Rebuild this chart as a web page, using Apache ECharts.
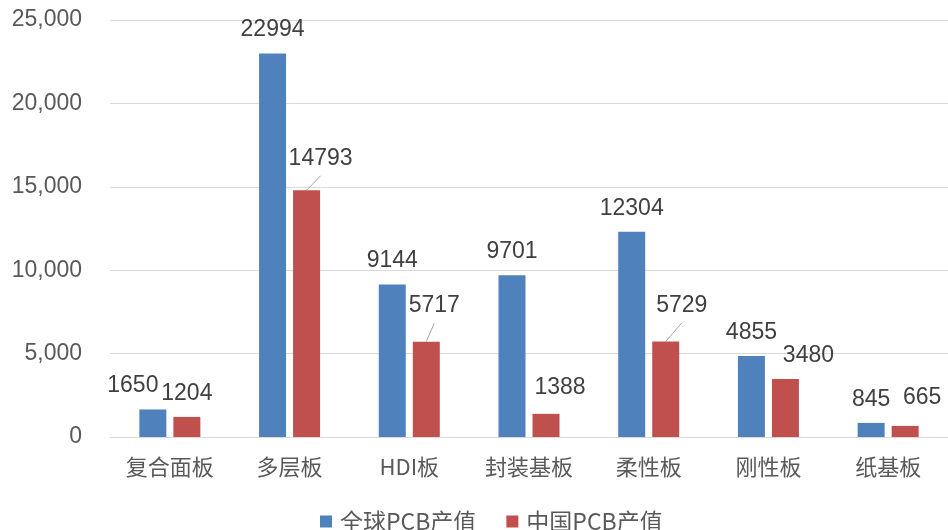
<!DOCTYPE html>
<html>
<head>
<meta charset="utf-8">
<script src="https://cdn.jsdelivr.net/npm/echarts@6/dist/echarts.min.js"></script>
<style>
  html, body { margin: 0; padding: 0; background: #ffffff; }
  #chart { width: 948px; height: 530px; }
</style>
</head>
<body>
<div id="chart"></div>
<script>
// PCB output by board type: global vs. China
const categories = ['复合面板', '多层板', 'HDI板', '封装基板', '柔性板', '刚性板', '纸基板'];
const seriesNames = ['全球PCB产值', '中国PCB产值'];
const globalValues = [1650, 22994, 9144, 9701, 12304, 4855, 845];
const chinaValues = [1204, 14793, 5717, 1388, 5729, 3480, 665];
const yMin = 0;
const yMax = 25000;
const yStep = 5000;

// Label nudges [dx, dy] in px, so neighbouring labels do not collide
const globalLabelShift = [[-20, 0], [0, 0], [0, 0], [0, 0], [0, 0], [0, 0], [0, 0]];
const chinaLabelShift = [[0, 0], [14, -8], [8, -12], [14, -3], [16, -12], [23, 0], [17, -5]];
// Which China labels get a guide line back to their bar
const chinaGuide = [false, true, true, false, true, false, false];

const textFont = '"Liberation Sans", Arial, "Noto Sans CJK SC", sans-serif';
const cjkFont = '"Noto Sans CJK SC", "Liberation Sans", sans-serif';

const BAR_WIDTH = 27;
const BAR_GAP = 0.26;
const LABEL_DISTANCE = 12;
const LABEL_SIZE = 23;

const shifts = [globalLabelShift, chinaLabelShift];

const labelStyle = {
  show: true,
  position: 'top',
  distance: LABEL_DISTANCE,
  fontSize: LABEL_SIZE,
  color: '#404040',
  fontFamily: textFont
};

// Guide lines for the moved China labels: from the top centre of the bar
// to just under the label's centre.
const guideData = chinaValues
  .map((v, i) => [i, v])
  .filter(d => chinaGuide[d[0]]);

function renderGuide(params, api) {
  const idx = api.value(0);
  const top = api.coord([idx, api.value(1)]);
  const barCenter = top[0] + BAR_WIDTH * (1 + BAR_GAP) / 2;
  const [dx, dy] = chinaLabelShift[idx];
  const labelCenterY = top[1] - LABEL_DISTANCE - LABEL_SIZE / 2 + dy;
  return {
    type: 'line',
    shape: {
      x1: barCenter,
      y1: top[1],
      x2: barCenter + dx,
      y2: labelCenterY + 17
    },
    style: { stroke: '#a6a6a6', lineWidth: 1 },
    silent: true
  };
}

const chart = echarts.init(document.getElementById('chart'), null, { renderer: 'canvas' });
chart.setOption({
  animation: false,
  backgroundColor: '#ffffff',
  grid: { left: 110, right: 0, top: 20, bottom: 93, containLabel: false },
  legend: {
    top: 505,
    left: 315,
    icon: 'rect',
    itemWidth: 12,
    itemHeight: 12,
    itemGap: 30,
    textStyle: { fontSize: 23, color: '#595959', fontFamily: cjkFont, padding: [0, 0, 0, 3] },
    data: seriesNames
  },
  xAxis: {
    type: 'category',
    data: categories,
    axisLine: { lineStyle: { color: '#d9d9d9', width: 1 } },
    axisTick: { show: false },
    axisLabel: { fontSize: 22, color: '#595959', margin: 19, fontFamily: cjkFont }
  },
  yAxis: {
    type: 'value',
    min: yMin,
    max: yMax,
    interval: yStep,
    axisLine: { show: false },
    axisTick: { show: false },
    splitLine: { lineStyle: { color: '#d9d9d9', width: 1 } },
    axisLabel: {
      fontSize: 23,
      color: '#595959',
      margin: 28,
      fontFamily: textFont,
      formatter: v => v.toLocaleString('en-US')
    }
  },
  series: [
    {
      name: seriesNames[0],
      type: 'bar',
      barWidth: BAR_WIDTH,
      barGap: (BAR_GAP * 100) + '%',
      itemStyle: { color: '#4f81bd' },
      data: globalValues,
      label: labelStyle,
      labelLayout: p => ({ dx: shifts[0][p.dataIndex][0], dy: shifts[0][p.dataIndex][1] })
    },
    {
      name: seriesNames[1],
      type: 'bar',
      barWidth: BAR_WIDTH,
      barGap: (BAR_GAP * 100) + '%',
      itemStyle: { color: '#c0504d' },
      data: chinaValues,
      label: labelStyle,
      labelLayout: p => ({ dx: shifts[1][p.dataIndex][0], dy: shifts[1][p.dataIndex][1] })
    },
    {
      name: 'guides',
      type: 'custom',
      silent: true,
      z: 3,
      renderItem: renderGuide,
      encode: { x: 0, y: 1 },
      data: guideData
    }
  ]
});
</script>
</body>
</html>
